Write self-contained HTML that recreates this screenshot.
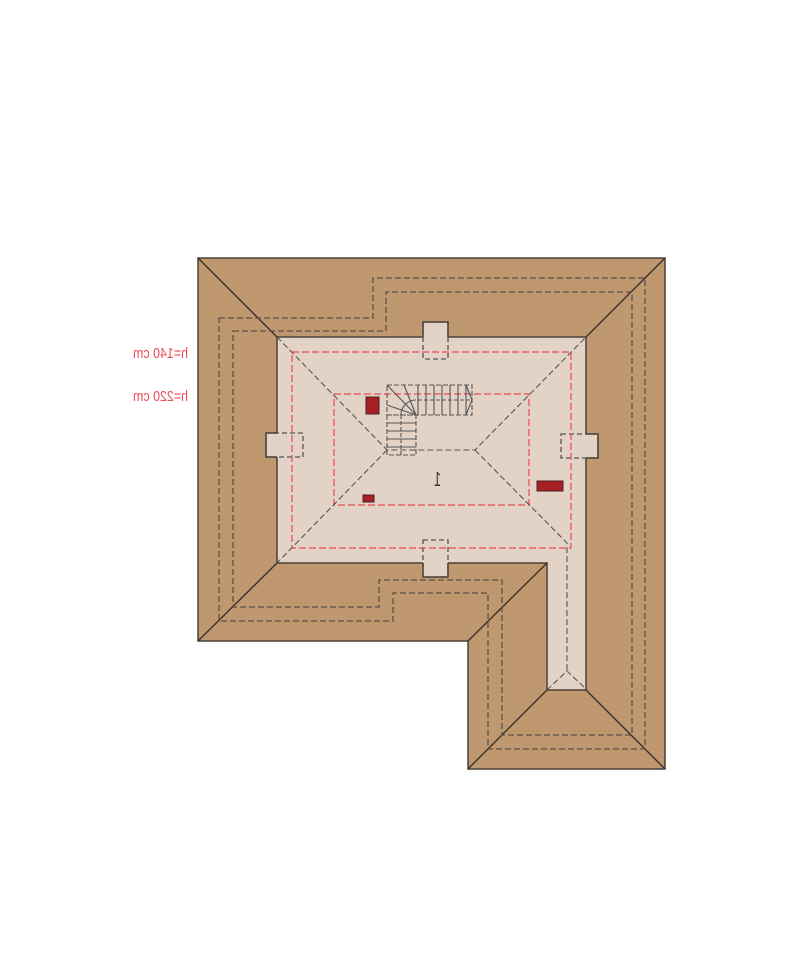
<!DOCTYPE html>
<html><head><meta charset="utf-8"><style>
html,body{margin:0;padding:0;background:#fff;width:800px;height:953px;overflow:hidden}
svg{display:block}
</style></head><body>
<svg width="800" height="953" viewBox="0 0 800 953" xmlns="http://www.w3.org/2000/svg">
<polygon points="198,258 665,258 665,769 468,769 468,641 198,641" fill="#c09870" stroke="#4a4038" stroke-width="1.5"/>
<polygon points="277,337 586,337 586,690 547,690 547,563 277,563" fill="#e2d3c6" stroke="#4a4038" stroke-width="1.5"/>
<g fill="#e2d3c6" stroke="#555" stroke-width="1.3">
<rect x="423" y="322" width="25" height="37" stroke-dasharray="5,3"/>
<rect x="423" y="540" width="25" height="37" stroke-dasharray="5,3"/>
<rect x="266" y="433" width="37" height="24" stroke-dasharray="5,3"/>
<rect x="561" y="434" width="37" height="24" stroke-dasharray="5,3"/>
</g>
<g stroke="#4a4038" stroke-width="1.5" fill="none">
<polyline points="423,337 423,322 448,322 448,337"/>
<polyline points="423,563 423,577 448,577 448,563"/>
<polyline points="277,433 266,433 266,457 277,457"/>
<polyline points="586,434 598,434 598,458 586,458"/>
</g>
<g stroke="#3a322c" stroke-width="1.4">
<line x1="198" y1="258" x2="277" y2="337"/>
<line x1="665" y1="258" x2="586" y2="337"/>
<line x1="198" y1="641" x2="277" y2="563"/>
<line x1="468" y1="641" x2="547" y2="563"/>
<line x1="468" y1="769" x2="547" y2="690"/>
<line x1="665" y1="769" x2="586" y2="690"/>
</g>
<g fill="none" stroke="#5a5048" stroke-width="1.3" stroke-dasharray="6,3">
<polygon points="233,331 386,331 386,292 632,292 632,735 502,735 502,580 379,580 379,607 233,607"/>
<polygon points="219,318 373,318 373,278 645,278 645,749 488,749 488,593 393,593 393,621 219,621"/>
</g>
<g fill="none" stroke="#ec4a55" stroke-width="1.2" stroke-dasharray="7,3">
<rect x="292" y="352" width="279" height="196"/>
<rect x="334" y="394" width="195" height="111"/>
</g>
<g fill="none" stroke="#555" stroke-width="1.1" stroke-dasharray="6,3">
<polyline points="277,337 387,450 475,450 586,337"/>
<line x1="387" y1="450" x2="277" y2="563"/>
<polyline points="475,450 567,543 567,671"/>
<polyline points="547,690 567,671 587,690"/>
</g>
<g fill="none" stroke="#555" stroke-width="1.1">
<rect x="387" y="385" width="85" height="30" stroke-dasharray="5,2"/>
<rect x="387" y="415" width="29" height="40" stroke-dasharray="5,2"/>
<line x1="418" y1="385" x2="418" y2="415"/><line x1="426" y1="385" x2="426" y2="415"/>
<line x1="434" y1="385" x2="434" y2="415"/><line x1="442" y1="385" x2="442" y2="415"/>
<line x1="450" y1="385" x2="450" y2="415"/><line x1="458" y1="385" x2="458" y2="415"/>
<line x1="466" y1="385" x2="466" y2="415"/>
<line x1="387" y1="423" x2="416" y2="423"/><line x1="387" y1="431" x2="416" y2="431"/>
<line x1="387" y1="439" x2="416" y2="439"/><line x1="387" y1="447" x2="416" y2="447"/>
<line x1="401" y1="415" x2="401" y2="455" stroke-dasharray="4,2"/>
<line x1="418" y1="400" x2="472" y2="400" stroke-dasharray="4,2"/>
<line x1="387" y1="385" x2="416" y2="415"/>
<line x1="387" y1="405" x2="416" y2="415"/>
<line x1="404" y1="385" x2="416" y2="415"/>
<path d="M401,415 A15,15 0 0 1 416,400"/>
<line x1="466" y1="385" x2="472" y2="400"/><line x1="472" y1="400" x2="466" y2="415"/>
</g>
<g fill="#a82024" stroke="#4a2020" stroke-width="1">
<rect x="366" y="397" width="13" height="17"/>
<rect x="537" y="481" width="26" height="10"/>
<rect x="363" y="495" width="11" height="7"/>
</g>
<g font-family="Liberation Sans, sans-serif" font-size="15" fill="#ec4a55">
<text transform="translate(188,358) scale(-1,1)" textLength="55" lengthAdjust="spacingAndGlyphs">h=140 cm</text>
<text transform="translate(188,401) scale(-1,1)" textLength="55" lengthAdjust="spacingAndGlyphs">h=220 cm</text>
</g>
<text transform="translate(441,486) scale(-1,1)" font-family="Liberation Sans, sans-serif" font-size="20" fill="#333" textLength="7" lengthAdjust="spacingAndGlyphs">1</text>
</svg>
</body></html>
